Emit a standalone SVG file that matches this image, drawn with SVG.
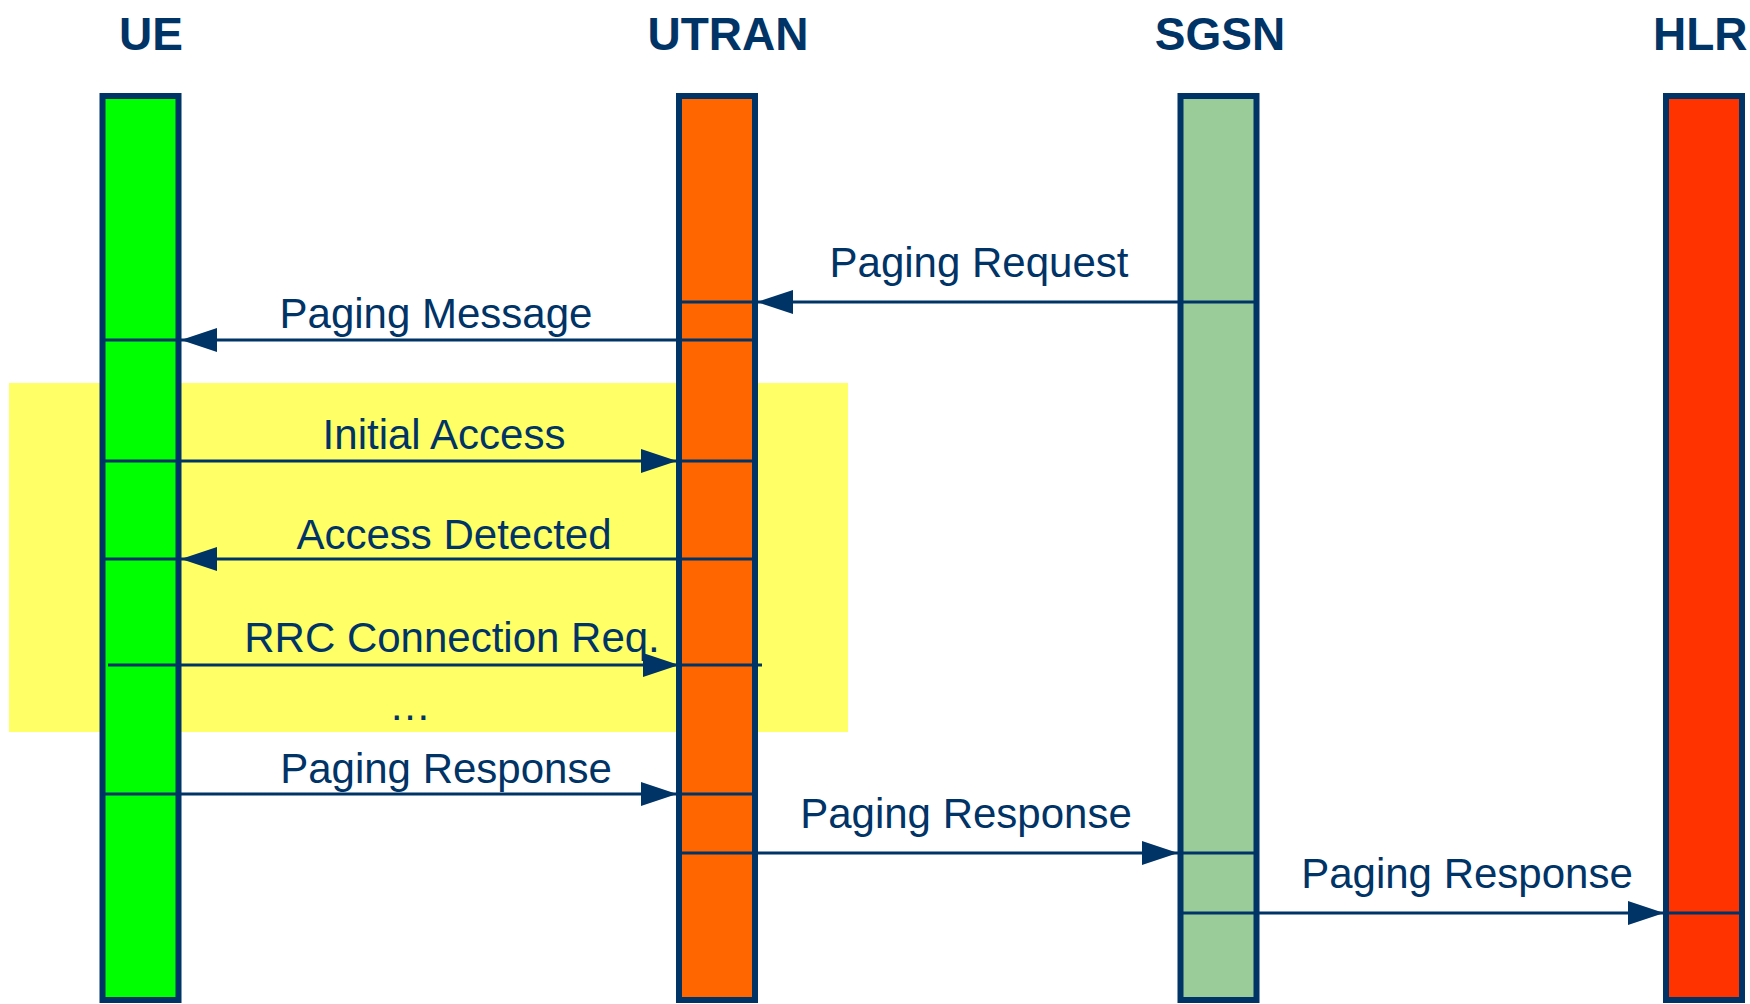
<svg xmlns="http://www.w3.org/2000/svg" width="1750" height="1004" viewBox="0 0 1750 1004">
<defs>
<style>
.hdr{font-family:"Liberation Sans",Arial,sans-serif;font-weight:bold;font-size:46px;fill:#003366}
.lbl{font-family:"Liberation Sans",Arial,sans-serif;font-size:42px;fill:#003366;text-anchor:middle}
.bar{stroke:#003366;stroke-width:6}
.msg{stroke:#003366;stroke-width:3;fill:none}
</style>
<marker id="arr" markerUnits="userSpaceOnUse" markerWidth="36" markerHeight="24" refX="36" refY="12" orient="auto" viewBox="0 0 36 24">
<path d="M0,0 L36,12 L0,24 z" fill="#003366"/>
</marker>
</defs>
<rect width="1750" height="1004" fill="#ffffff"/>
<rect id="phase" x="9" y="383" width="839" height="349" fill="#ffff66"/>
<g id="UE">
<text class="hdr" x="151" y="50" text-anchor="middle">UE</text>
<rect class="bar" x="102.5" y="96" width="76" height="904" fill="#00ff00"/>
</g>
<g id="UTRAN">
<text class="hdr" x="728" y="50" text-anchor="middle">UTRAN</text>
<rect class="bar" x="679" y="96" width="76" height="904" fill="#ff6600"/>
</g>
<g id="SGSN">
<text class="hdr" x="1220" y="50" text-anchor="middle">SGSN</text>
<rect class="bar" x="1180.5" y="96" width="76" height="904" fill="#99cc99"/>
</g>
<g id="HLR">
<text class="hdr" x="1653" y="50">HLR</text>
<rect class="bar" x="1666" y="96" width="76" height="904" fill="#ff3300"/>
</g>
<g id="connectors">
<g id="m1">
<path class="msg" d="M1256.5,302 H757" marker-end="url(#arr)"/>
<path class="msg" d="M755,302 H679"/>
<text class="lbl" x="979" y="277">Paging Request</text>
</g>
<g id="m2">
<path class="msg" d="M755,340 H181" marker-end="url(#arr)"/>
<path class="msg" d="M178.5,340 H102.5"/>
<text class="lbl" x="436" y="328">Paging Message</text>
</g>
<g id="m3">
<path class="msg" d="M102.5,461 H677" marker-end="url(#arr)"/>
<path class="msg" d="M679,461 H755"/>
<text class="lbl" x="444" y="449">Initial Access</text>
</g>
<g id="m4">
<path class="msg" d="M755,559 H181" marker-end="url(#arr)"/>
<path class="msg" d="M178.5,559 H102.5"/>
<text class="lbl" x="454" y="549">Access Detected</text>
</g>
<g id="m5">
<path class="msg" d="M108,665 H679" marker-end="url(#arr)"/>
<path class="msg" d="M679,665 H762"/>
<text class="lbl" x="452" y="652">RRC Connection Req.</text>
</g>
<text class="lbl" x="410" y="720">…</text>
<g id="m6">
<path class="msg" d="M102.5,794 H677" marker-end="url(#arr)"/>
<path class="msg" d="M679,794 H755"/>
<text class="lbl" x="446" y="783">Paging Response</text>
</g>
<g id="m7">
<path class="msg" d="M679,853 H1178" marker-end="url(#arr)"/>
<path class="msg" d="M1180.5,853 H1256.5"/>
<text class="lbl" x="966" y="828">Paging Response</text>
</g>
<g id="m8">
<path class="msg" d="M1180.5,913 H1664" marker-end="url(#arr)"/>
<path class="msg" d="M1666,913 H1742"/>
<text class="lbl" x="1467" y="888">Paging Response</text>
</g>
</g>
</svg>
